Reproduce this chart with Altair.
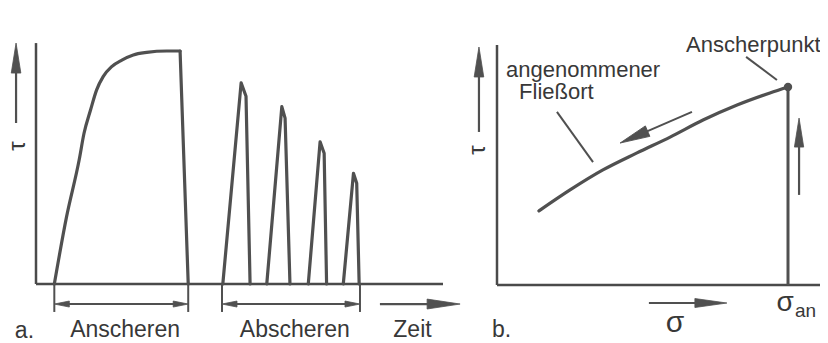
import math
import altair as alt
import pandas as pd

# ---------------- values ----------------
# Panel a: shear stress tau over time (tau of the steady state = 100, end of time axis = 100)
ramp_t = [4.5, 7.5, 10.6, 11.8, 13.4, 14.9, 16.5, 18.6, 21.1, 23.9, 27.2, 32.1, 35.4]
ramp_tau = [0, 28.8, 53.2, 64.7, 74.7, 83.3, 89.0, 93.3, 96.1, 98.3, 99.4, 100, 100]
unload_t = [35.4, 37.4]
unload_tau = [100, 0]

peak_t = [
    [45.9, 50.4, 51.6, 52.6],
    [56.7, 60.4, 61.2, 62.4],
    [66.9, 69.8, 70.8, 71.4],
    [75.5, 78.0, 78.8, 79.4],
]
peak_tau = [
    [0, 86.3, 80.6, 0],
    [0, 76.1, 71.2, 0],
    [0, 61.0, 56.1, 0],
    [0, 47.5, 43.2, 0],
]
preshear_span = [4.5, 37.4]   # "Anscheren"
shear_span = [45.7, 79.6]     # "Abscheren"

# Panel b: assumed yield locus in the sigma-tau plane (preshear point = 100/100)
locus_sigma = [14.4, 25.1, 36.4, 48.1, 59.5, 70.8, 82.5, 93.8, 100]
locus_tau = [37.4, 48.0, 58.1, 66.7, 74.7, 83.3, 90.9, 97.0, 100]
sigma_an = 100
tau_an = 100

# ---------------- layout / style ----------------
W, H = 812, 335
FONT = "Liberation Sans"
INK = "#505050"
AXIS = "#4a4a4a"
TXT = "#383838"

# panel a: origin (px in view) and px per unit
A_X0, A_KX, A_Y0, A_KY = 28, 4.07, 276, 2.33
# panel b
B_X0, B_KX, B_Y0, B_KY = 489, 2.91, 277, 1.98


def scales(x0, kx, y0, ky):
    xs = alt.Scale(domain=[-x0 / kx, (W - x0) / kx], nice=False, zero=False)
    ys = alt.Scale(domain=[-(H - y0) / ky, y0 / ky], nice=False, zero=False)
    return xs, ys


def xy(xs, ys):
    return dict(x=alt.X("x:Q", scale=xs, axis=None), y=alt.Y("y:Q", scale=ys, axis=None))


def polyline(xvals, yvals, xs, ys, width, group=None, interp="linear"):
    df = pd.DataFrame({"x": xvals, "y": yvals, "i": range(len(xvals))})
    enc = xy(xs, ys)
    enc["order"] = "i:Q"
    if group is not None:
        df["g"] = group
        enc["detail"] = "g:N"
    return alt.Chart(df).mark_line(
        strokeWidth=width, color=INK, strokeJoin="round", strokeCap="round", interpolate=interp
    ).encode(**enc)


def segs(rows, xs, ys, width, color=INK, cap="butt"):
    df = pd.DataFrame(rows, columns=["x", "y", "x2", "y2"])
    enc = xy(xs, ys)
    enc["x2"] = "x2:Q"
    enc["y2"] = "y2:Q"
    return alt.Chart(df).mark_rule(strokeWidth=width, color=color, strokeCap=cap).encode(**enc)


def head(tip, angle, length, halfw, xs, ys):
    df = pd.DataFrame({"x": [tip[0]], "y": [tip[1]]})
    shape = f"M0,0L{halfw},2L{-halfw},2Z"
    return alt.Chart(df).mark_point(
        shape=shape, filled=True, size=length ** 2, angle=angle % 360,
        color=INK, opacity=1, strokeWidth=0.8, stroke=INK,
    ).encode(**xy(xs, ys))


def arrow(p0, p1, xs, ys, kx, ky, length, halfw, width=2.2, both=False):
    dxp = (p1[0] - p0[0]) * kx
    dyp = -(p1[1] - p0[1]) * ky
    ang = math.degrees(math.atan2(dxp, -dyp))
    dist = math.hypot(dxp, dyp)
    f = (length * 0.6) / dist
    a = list(p0)
    b = [p1[0] - (p1[0] - p0[0]) * f, p1[1] - (p1[1] - p0[1]) * f]
    layers = [head(p1, ang, length, halfw, xs, ys)]
    if both:
        a = [p0[0] + (p1[0] - p0[0]) * f, p0[1] + (p1[1] - p0[1]) * f]
        layers.append(head(p0, ang + 180, length, halfw, xs, ys))
    layers.insert(0, segs([[a[0], a[1], b[0], b[1]]], xs, ys, width))
    return layers


def text(x, y, s, xs, ys, size, align="center", angle=0, baseline="alphabetic"):
    df = pd.DataFrame({"x": [x], "y": [y], "s": [s]})
    return alt.Chart(df).mark_text(
        font=FONT, fontSize=size, color=TXT, align=align, baseline=baseline, angle=angle
    ).encode(text="s:N", **xy(xs, ys))


# ---------------- panel a ----------------
axs, ays = scales(A_X0, A_KX, A_Y0, A_KY)
dim_y = -8.6
tick_y = -12.0
pk_x, pk_y, pk_g = [], [], []
for k, (tt, vv) in enumerate(zip(peak_t, peak_tau)):
    pk_x += tt
    pk_y += vv
    pk_g += [k] * len(tt)

left_layers = [
    segs([[0, 0, 0, 103.4], [0, 0, 100, 0]], axs, ays, 2.5, AXIS),
    polyline(ramp_t, ramp_tau, axs, ays, 3.2, interp="monotone"),
    polyline(unload_t, unload_tau, axs, ays, 3.2),
    polyline(pk_x, pk_y, axs, ays, 3.2, group=pk_g),
    segs([[v, 0, v, tick_y] for v in preshear_span + shear_span], axs, ays, 2),
]
left_layers += arrow((preshear_span[0], dim_y), (preshear_span[1], dim_y), axs, ays, A_KX, A_KY, 15, 0.4, 2, both=True)
left_layers += arrow((shear_span[0], dim_y), (shear_span[1], dim_y), axs, ays, A_KX, A_KY, 15, 0.4, 2, both=True)
left_layers += arrow((84.5, dim_y), (104.2, dim_y), axs, ays, A_KX, A_KY, 33, 0.3, 2.2)
left_layers += arrow((-4.9, 69.1), (-4.9, 103.4), axs, ays, A_KX, A_KY, 30, 0.32, 2.2)
left_layers += [
    text(-4.4, 59.2, "τ", axs, ays, 24, angle=270, baseline="middle"),
    text(-5.2, -23.2, "a.", axs, ays, 23, align="left"),
    text(21.9, -22.7, "Anscheren", axs, ays, 23),
    text(63.6, -22.7, "Abscheren", axs, ays, 23),
    text(92.5, -22.7, "Zeit", axs, ays, 23),
]

# ---------------- panel b ----------------
bxs, bys = scales(B_X0, B_KX, B_Y0, B_KY)
right_layers = [
    segs([[0, 0, 0, 121.2], [0, 0, 113.4, 0]], bxs, bys, 2.5, AXIS),
    segs([[sigma_an, 0, sigma_an, tau_an]], bxs, bys, 3),
    polyline(locus_sigma, locus_tau, bxs, bys, 3.2, interp="monotone"),
    alt.Chart(pd.DataFrame({"x": [sigma_an], "y": [tau_an]})).mark_circle(
        size=70, color=INK, opacity=1
    ).encode(**xy(bxs, bys)),
    segs([[20.6, 87.4, 33.0, 62.1], [85.6, 115.2, 96.2, 103.5]], bxs, bys, 2),
]
right_layers += arrow((67.0, 87.4), (42.3, 71.7), bxs, bys, B_KX, B_KY, 30, 0.38, 2)
right_layers += arrow((103.8, 45.5), (103.8, 84.3), bxs, bys, B_KX, B_KY, 29, 0.32, 2.2)
right_layers += arrow((-6.2, 77.3), (-6.2, 120.2), bxs, bys, B_KX, B_KY, 30, 0.32, 2.2)
right_layers += arrow((52.2, -9.1), (79.0, -9.1), bxs, bys, B_KX, B_KY, 32, 0.28, 2.2)
right_layers += [
    text(-6.5, 68.2, "τ", bxs, bys, 24, angle=270, baseline="middle"),
    text(61.2, -23.7, "σ", bxs, bys, 30),
    text(99.0, -13.1, "σ", bxs, bys, 28),
    text(102.4, -16.2, "an", bxs, bys, 19, align="left"),
    text(-1.7, -26.3, "b.", bxs, bys, 23, align="left"),
    text(29.6, 105.1, "angenommener", bxs, bys, 22),
    text(20.4, 93.8, "Fließort", bxs, bys, 22),
    text(88.1, 117.7, "Anscherpunkt", bxs, bys, 22),
]

left = alt.layer(*left_layers)
right = alt.layer(*right_layers)

chart = (
    alt.layer(left, right)
    .resolve_scale(x="independent", y="independent")
    .properties(width=W, height=H, autosize=alt.AutoSizeParams(type="none"), padding=0, background="white")
    .configure_view(stroke=None)
)

chart.save("out.html", embed_options={"renderer": "svg", "actions": False})
